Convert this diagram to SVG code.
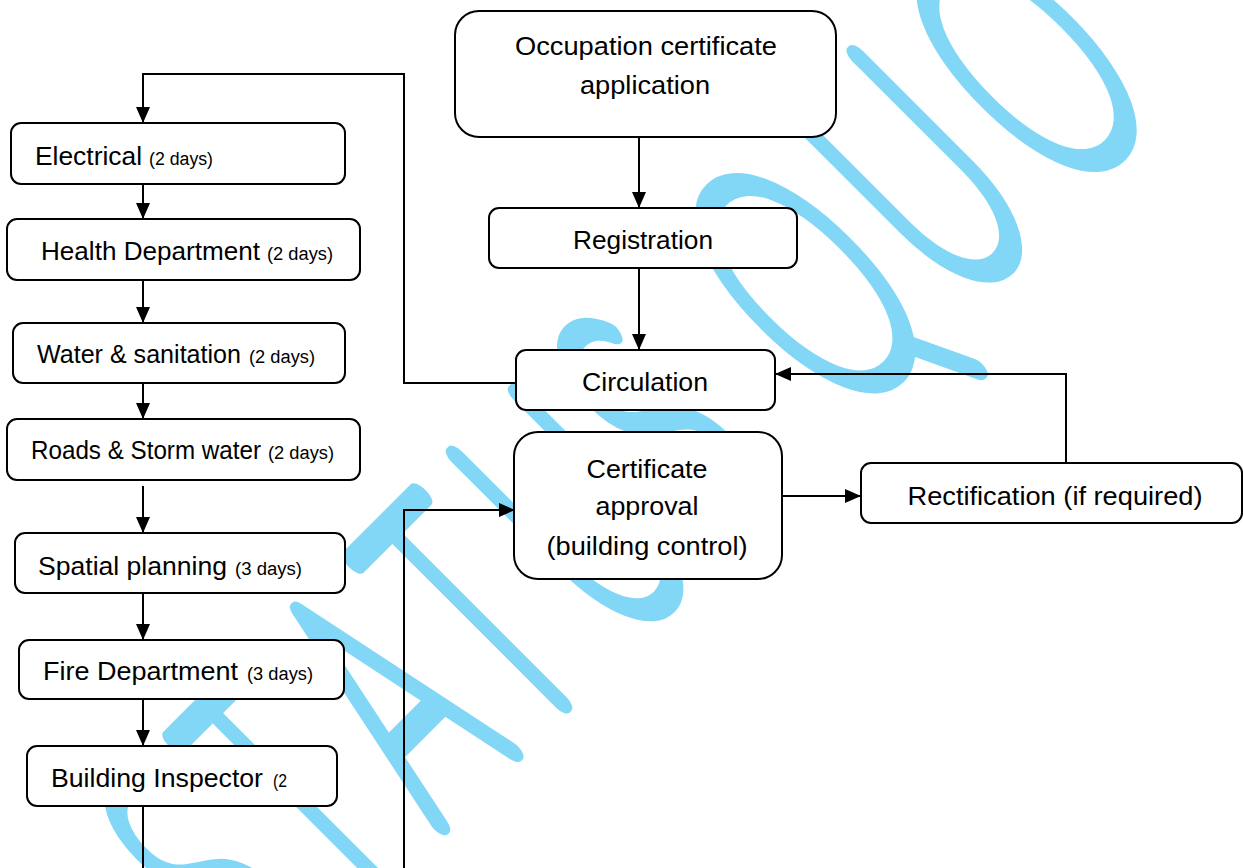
<svg xmlns="http://www.w3.org/2000/svg" width="1243" height="868" viewBox="0 0 1243 868">
<style>
.box{fill:#ffffff;stroke:#000000;stroke-width:2}
.lbl{font-family:"Liberation Sans",Arial,sans-serif;font-size:26.5px;fill:#000000}
.sm{font-size:18px}
.mid{text-anchor:middle}
.ln{fill:none;stroke:#000000;stroke-width:2}
.wm{font-family:Lato,"Liberation Sans",sans-serif;font-weight:100;font-size:355px;fill:#82D7F7;stroke:#82D7F7;stroke-width:20;stroke-linejoin:round;stroke-linecap:round;vector-effect:non-scaling-stroke}
</style>
<defs>
<marker id="ah" markerUnits="userSpaceOnUse" markerWidth="18" markerHeight="16" refX="16" refY="7" orient="auto">
<path d="M0,0 L16,7 L0,14 Z" fill="#000000"/>
</marker>
</defs>
<rect width="1243" height="868" fill="#ffffff"/>
<g id="watermark">
<text class="wm" transform="translate(257.4,1006.9) rotate(-45) scale(0.5,1)" x="19 251 506 759 1020 1299 1500 1659 1978 2285" y="0">STATUS QUO</text>
</g>
<g id="connectors">
<path class="ln" d="M516,383 H404 V74 H143 V123" marker-end="url(#ah)"/>
<path class="ln" d="M143,184 V219" marker-end="url(#ah)"/>
<path class="ln" d="M143,280 V323" marker-end="url(#ah)"/>
<path class="ln" d="M143,383 V419" marker-end="url(#ah)"/>
<path class="ln" d="M143,486 V533" marker-end="url(#ah)"/>
<path class="ln" d="M143,593 V640" marker-end="url(#ah)"/>
<path class="ln" d="M143,699 V746" marker-end="url(#ah)"/>
<path class="ln" d="M143,806 V870"/>
<path class="ln" d="M404,870 V510 H515" marker-end="url(#ah)"/>
<path class="ln" d="M639,138 V208" marker-end="url(#ah)"/>
<path class="ln" d="M639,268 V350" marker-end="url(#ah)"/>
<path class="ln" d="M782,496 H861" marker-end="url(#ah)"/>
<path class="ln" d="M1066,463 V374 H775" marker-end="url(#ah)"/>
</g>
<g id="n-electrical">
<rect class="box" x="11" y="123" width="334" height="61" rx="10"/>
<text class="lbl" y="165"><tspan x="35" textLength="107" lengthAdjust="spacingAndGlyphs">Electrical</tspan><tspan class="sm" x="149" textLength="64" lengthAdjust="spacingAndGlyphs">(2 days)</tspan></text>
</g>
<g id="n-health">
<rect class="box" x="7" y="219" width="353" height="61" rx="10"/>
<text class="lbl" y="260"><tspan x="41" textLength="219" lengthAdjust="spacingAndGlyphs">Health Department</tspan><tspan class="sm" x="267" textLength="66" lengthAdjust="spacingAndGlyphs">(2 days)</tspan></text>
</g>
<g id="n-water">
<rect class="box" x="13" y="323" width="332" height="60" rx="10"/>
<text class="lbl" y="363"><tspan x="37" textLength="204" lengthAdjust="spacingAndGlyphs">Water &amp; sanitation</tspan><tspan class="sm" x="249" textLength="66" lengthAdjust="spacingAndGlyphs">(2 days)</tspan></text>
</g>
<g id="n-roads">
<rect class="box" x="7" y="419" width="353" height="61" rx="10"/>
<text class="lbl" y="459"><tspan x="31" font-size="25" textLength="230" lengthAdjust="spacingAndGlyphs">Roads &amp; Storm water</tspan><tspan class="sm" x="268" textLength="66" lengthAdjust="spacingAndGlyphs">(2 days)</tspan></text>
</g>
<g id="n-spatial">
<rect class="box" x="15" y="533" width="330" height="60" rx="10"/>
<text class="lbl" y="575"><tspan x="38" textLength="189" lengthAdjust="spacingAndGlyphs">Spatial planning</tspan><tspan class="sm" x="235" textLength="67" lengthAdjust="spacingAndGlyphs">(3 days)</tspan></text>
</g>
<g id="n-fire">
<rect class="box" x="19" y="640" width="325" height="59" rx="10"/>
<text class="lbl" y="680"><tspan x="43" textLength="195" lengthAdjust="spacingAndGlyphs">Fire Department</tspan><tspan class="sm" x="247" textLength="66" lengthAdjust="spacingAndGlyphs">(3 days)</tspan></text>
</g>
<g id="n-building">
<rect class="box" x="27" y="746" width="310" height="60" rx="10"/>
<text class="lbl" y="787"><tspan x="51" textLength="212" lengthAdjust="spacingAndGlyphs">Building Inspector</tspan><tspan class="sm" x="273" textLength="14" lengthAdjust="spacingAndGlyphs">(2</tspan></text>
</g>
<g id="n-occupation">
<rect class="box" x="455" y="11" width="381" height="126" rx="24"/>
<text class="lbl mid" x="646" y="55" textLength="262" lengthAdjust="spacingAndGlyphs">Occupation certificate</text>
<text class="lbl mid" x="645" y="94" textLength="130" lengthAdjust="spacingAndGlyphs">application</text>
</g>
<g id="n-registration">
<rect class="box" x="489" y="208" width="308" height="60" rx="10"/>
<text class="lbl mid" x="643" y="249" textLength="140" lengthAdjust="spacingAndGlyphs">Registration</text>
</g>
<g id="n-circulation">
<rect class="box" x="516" y="350" width="259" height="60" rx="10"/>
<text class="lbl mid" x="645" y="391" textLength="126" lengthAdjust="spacingAndGlyphs">Circulation</text>
</g>
<g id="n-approval">
<rect class="box" x="514" y="432" width="268" height="147" rx="24"/>
<text class="lbl mid" x="647" y="478" textLength="121" lengthAdjust="spacingAndGlyphs">Certificate</text>
<text class="lbl mid" x="647" y="515" textLength="103" lengthAdjust="spacingAndGlyphs">approval</text>
<text class="lbl mid" x="647" y="555" textLength="201" lengthAdjust="spacingAndGlyphs">(building control)</text>
</g>
<g id="n-rectification">
<rect class="box" x="861" y="463" width="381" height="60" rx="10"/>
<text class="lbl mid" x="1055" y="505" textLength="295" lengthAdjust="spacingAndGlyphs">Rectification (if required)</text>
</g>
</svg>
